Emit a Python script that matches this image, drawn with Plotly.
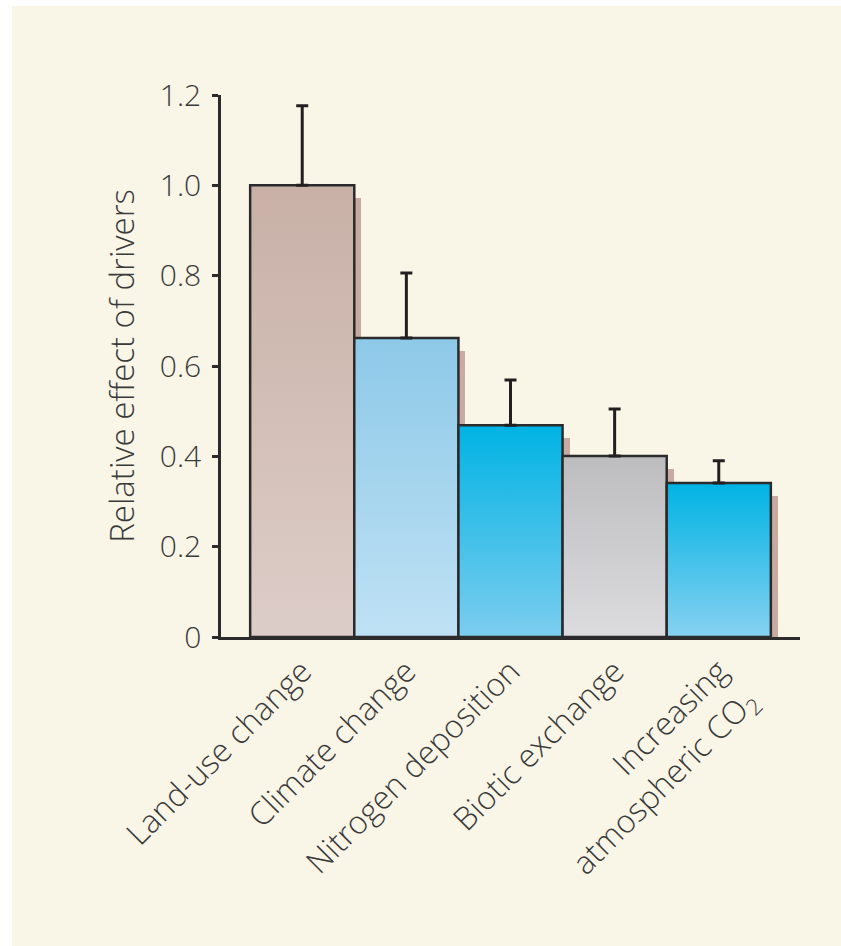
import plotly.graph_objects as go

categories = ["Land-use change", "Climate change", "Nitrogen deposition",
              "Biotic exchange", "Increasing<br>atmospheric CO<sub>2</sub>"]
values = [1.0, 0.662, 0.469, 0.401, 0.341]
err_top = [1.176, 0.806, 0.569, 0.505, 0.390]
y_tickvals = [0, 0.2, 0.4, 0.6, 0.8, 1.0, 1.2]
y_ticktext = ["0", "0.2", "0.4", "0.6", "0.8", "1.0", "1.2"]

top_colors = ["#c8b0a6", "#8dc9e8", "#00b3e3", "#bdbdbf", "#00b3e3"]
bottom_colors = ["#ddcdc8", "#bfe1f4", "#7ccdef", "#dcdcde", "#87d1f1"]

INK = "#2b2b2b"
TXT = "#3a3a3a"
CREAM = "#f9f6e8"
FONT = "Open Sans"

W, H = 841, 946
L, R, T, B = 221, 41, 95, 309
pw, ph = W - L - R, H - T - B

xs = list(range(len(categories)))
fig = go.Figure()

# shadows
fig.add_trace(go.Bar(
    x=xs, y=[v - 0.029 for v in values], base=0, width=1, offset=-0.5 + 0.067,
    marker=dict(color="#c8aaa0", line=dict(width=0)), hoverinfo="skip",
    showlegend=False))

# gradient bars with outline
for i, v in enumerate(values):
    fig.add_trace(go.Scatter(
        x=[i - 0.5, i + 0.5, i + 0.5, i - 0.5, i - 0.5],
        y=[0, 0, v, v, 0],
        mode="lines", fill="toself",
        fillgradient=dict(type="vertical",
                          colorscale=[[0, bottom_colors[i]], [1, top_colors[i]]]),
        line=dict(color=INK, width=2.5),
        hoverinfo="skip", showlegend=False))

# error bars
fig.add_trace(go.Scatter(
    x=xs, y=values, mode="markers",
    marker=dict(size=1, color="rgba(0,0,0,0)"),
    error_y=dict(type="data", symmetric=False,
                 array=[e - v for e, v in zip(err_top, values)],
                 arrayminus=[0] * len(values),
                 color="#231f20", thickness=3, width=6),
    cliponaxis=False, showlegend=False, hoverinfo="skip"))

fig.add_shape(type="rect", xref="paper", yref="paper", layer="below",
              x0=(12 - L) / pw, x1=(W - L) / pw,
              y0=-(H - T - ph) / ph, y1=(ph + T - 6) / ph,
              fillcolor=CREAM, line=dict(width=0))

fig.update_layout(
    width=W, height=H,
    margin=dict(l=L, r=R, t=T, b=B, autoexpand=False),
    paper_bgcolor="white", plot_bgcolor="rgba(0,0,0,0)",
    barmode="overlay", bargap=0,
    font=dict(family=FONT, color=TXT),
    xaxis=dict(range=[-0.78, 4.78], tickvals=xs, ticktext=categories,
               tickangle=-45, showgrid=False, zeroline=False,
               showline=True, linecolor=INK, linewidth=2.5, ticks="",
               tickfont=dict(size=32, family=FONT, color=TXT, weight=300),
               fixedrange=True),
    yaxis=dict(range=[0, 1.2], tickvals=y_tickvals, ticktext=y_ticktext,
               showgrid=False, zeroline=False, showline=True,
               linecolor=INK, linewidth=2.5, ticks="outside", ticklen=6,
               tickwidth=2.5, tickcolor=INK, ticklabelstandoff=5,
               tickfont=dict(size=30, family=FONT, color=TXT, weight=300),
               title=dict(text="Relative effect of drivers",
                          font=dict(size=33, family=FONT, color=TXT, weight=300),
                          standoff=16),
               fixedrange=True),
)

fig.write_html("out.html",
               config={"displayModeBar": False},
               post_script="document.body.style.margin='0';document.body.style.padding='0';")
